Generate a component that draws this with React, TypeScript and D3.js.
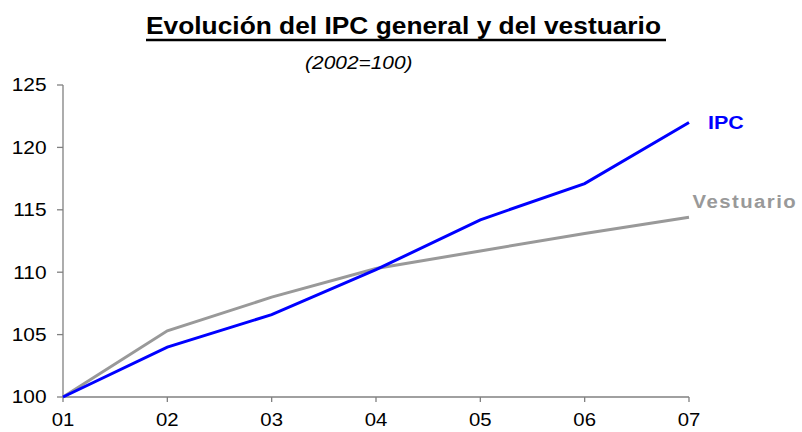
import * as d3 from "d3";

const years = ["01", "02", "03", "04", "05", "06", "07"];
const ipc = [100, 104.0, 106.6, 110.2, 114.2, 117.1, 122.0];
const vestuario = [100, 105.3, 108.0, 110.3, 111.7, 113.1, 114.4];
const yTicks = [100, 105, 110, 115, 120, 125];

const width = 802;
const height = 432;
const margin = { top: 85, right: 113, bottom: 35, left: 63 };
const font = "Liberation Sans, Arial, sans-serif";
// the source picture is slightly stretched horizontally
const sx = 1.13;

const T = (x: number, y: number) => `translate(${x},${y}) scale(${sx},1)`;

export default function App() {
  const x = d3
    .scalePoint<string>()
    .domain(years)
    .range([margin.left, width - margin.right]);
  const y = d3
    .scaleLinear()
    .domain([100, 125])
    .range([height - margin.bottom, margin.top]);

  const line = d3
    .line<number>()
    .x((_, i) => x(years[i]) as number)
    .y((d) => y(d));

  const last = years.length - 1;
  const x0 = margin.left;
  const x1 = width - margin.right;
  const yBase = y(100);

  return (
    <svg
      width={width}
      height={height}
      style={{ position: "absolute", left: 0, top: 0, background: "#fff" }}
      fontFamily={font}
    >
      <text transform={T(146, 33.5)} fontSize={23.3} fontWeight="bold">
        Evolución del IPC general y del vestuario
      </text>
      <line x1={146} x2={666} y1={40} y2={40} stroke="#000" strokeWidth={2.4} />
      <text
        transform={T(358.8, 68.7)}
        textAnchor="middle"
        fontSize={18.5}
        fontStyle="italic"
      >
        (2002=100)
      </text>

      {/* axes */}
      <line x1={x0} x2={x0} y1={y(125)} y2={yBase} stroke="#808080" strokeWidth={1.3} />
      <line x1={x0} x2={x1} y1={yBase} y2={yBase} stroke="#808080" strokeWidth={1.3} />
      {yTicks.map((t) => (
        <g key={t}>
          <line x1={x0 - 6} x2={x0} y1={y(t)} y2={y(t)} stroke="#808080" strokeWidth={1.3} />
          <text transform={T(46.5, y(t))} dy="0.35em" textAnchor="end" fontSize={18.5}>
            {t}
          </text>
        </g>
      ))}
      {years.map((yr) => (
        <g key={yr}>
          <line
            x1={x(yr)}
            x2={x(yr)}
            y1={yBase}
            y2={yBase + 5}
            stroke="#808080"
            strokeWidth={1.3}
          />
          <text transform={T(x(yr) as number, 426)} textAnchor="middle" fontSize={18}>
            {yr}
          </text>
        </g>
      ))}

      <path d={line(vestuario) ?? ""} fill="none" stroke="#999999" strokeWidth={3} />
      <path d={line(ipc) ?? ""} fill="none" stroke="#0000ff" strokeWidth={3} />

      <text
        transform={T((x(years[last]) as number) + 19, y(ipc[last]) + 6.5)}
        fontSize={19}
        fontWeight="bold"
        fill="#0000ff"
      >
        IPC
      </text>
      <text
        transform={T((x(years[last]) as number) + 3.5, y(vestuario[last]) - 9.5)}
        fontSize={18}
        fontWeight="bold"
        fill="#999999"
        letterSpacing={1.3}
      >
        Vestuario
      </text>
    </svg>
  );
}
